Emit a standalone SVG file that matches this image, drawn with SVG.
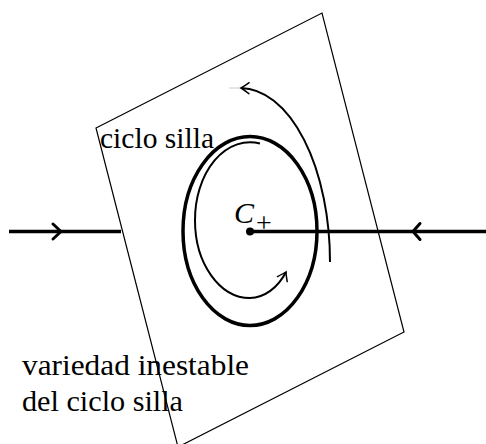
<svg xmlns="http://www.w3.org/2000/svg" width="486" height="444" viewBox="0 0 486 444">
<style>
.txt{font-family:"Liberation Serif","DejaVu Serif",serif;fill:#000}
.thin{fill:none;stroke:#000;stroke-width:1.2}
.thick{fill:none;stroke:#000;stroke-width:3.5}
.mid{fill:none;stroke:#000;stroke-width:2}
.chev{fill:none;stroke:#000;stroke-width:3;stroke-linecap:round;stroke-linejoin:round}
</style>
<defs>
<marker id="arr" markerWidth="14" markerHeight="14" refX="0" refY="0" viewBox="-10 -7 12 14" orient="auto" markerUnits="userSpaceOnUse">
<path d="M -8 -5.5 Q -2 -1 0 0 Q -2 1 -8 5.5" fill="none" stroke="#000" stroke-width="1.5" stroke-linecap="round"/>
</marker>
</defs>
<g id="plane">
<polygon class="thin" points="96,128 322,13 404,332 178,447"/>
</g>
<g id="saddle-cycle">
<ellipse cx="250" cy="231" rx="67" ry="94.5" class="thick"/>
</g>
<g id="connectors">
<line class="thick" x1="9" y1="231.5" x2="121" y2="231.5"/>
<polyline class="chev" points="53,224 61,231.5 53,239"/>
<line class="thick" x1="250" y1="231.5" x2="486" y2="231.5"/>
<polyline class="chev" points="420,223.5 413,231.5 420,239.5"/>
<path class="mid" d="M 260 143.5 A 55 77.5 0 0 0 195 220.5 A 55 77.5 0 0 0 250 298 A 45 62 0 0 0 286 272" marker-end="url(#arr)"/>
<path class="mid" d="M 330 262 A 90 174 0 0 0 241 88" marker-end="url(#arr)"/>
<line x1="229" y1="88" x2="240" y2="88" stroke="#ccc" stroke-width="1"/>
</g>
<g id="C-plus">
<circle cx="250" cy="231.5" r="4"/>
<text class="txt" x="234" y="223" font-size="30" font-style="italic">C</text>
<text class="txt" x="256" y="232" font-size="28">+</text>
</g>
<g id="label-ciclo">
<text class="txt" x="100" y="148" font-size="30" textLength="114" lengthAdjust="spacingAndGlyphs">ciclo silla</text>
</g>
<g id="label-variedad">
<text class="txt" x="22" y="375" font-size="30" textLength="227" lengthAdjust="spacingAndGlyphs">variedad inestable</text>
<text class="txt" x="22" y="411" font-size="30" textLength="161" lengthAdjust="spacingAndGlyphs">del ciclo silla</text>
</g>
</svg>
